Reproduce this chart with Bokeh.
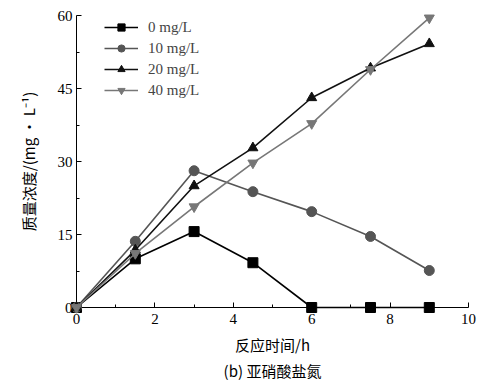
from bokeh.plotting import figure
from bokeh.models import Range1d, Legend, LegendItem, Title, FixedTicker
from bokeh.embed import file_html
from bokeh.resources import INLINE

x_hours = [0, 1.5, 3, 4.5, 6, 7.5, 9]
c0 = [0, 10.0, 15.6, 9.2, 0, 0, 0]
c10 = [0, 13.6, 28.1, 23.8, 19.7, 14.6, 7.6]
c20 = [0, 11.8, 25.0, 32.8, 43.1, 49.2, 54.2]
c40 = [0, 11.1, 20.7, 29.7, 37.8, 48.9, 59.5]
series_names = ["0 mg/L", "10 mg/L", "20 mg/L", "40 mg/L"]
x_ticks = [0, 2, 4, 6, 8, 10]
y_ticks = [0, 15, 30, 45, 60]

SERIF = "Liberation Serif"
CJK = "Noto Sans CJK SC"

p = figure(width=478, height=380, output_backend="svg", toolbar_location=None,
           x_range=Range1d(0, 10), y_range=Range1d(0, 60),
           min_border_left=76, min_border_right=10, min_border_top=15, min_border_bottom=5)
p.outline_line_color = None
p.grid.grid_line_color = None
p.background_fill_color = "white"

for ax in (p.xaxis[0], p.yaxis[0]):
    ax.axis_line_color = "black"
    ax.axis_line_width = 1
    ax.major_tick_in = 5
    ax.major_tick_out = 0
    ax.minor_tick_in = 3
    ax.minor_tick_out = 0
    ax.major_label_text_font = SERIF
    ax.major_label_text_font_size = "15px"
    ax.major_label_text_color = "black"
    ax.axis_label_text_font = CJK
    ax.axis_label_text_font_style = "normal"
    ax.axis_label_text_font_size = "15px"
    ax.axis_label_text_color = "black"

p.xaxis.ticker = FixedTicker(ticks=x_ticks, minor_ticks=[1, 3, 5, 7, 9])
p.yaxis.ticker = FixedTicker(ticks=y_ticks, minor_ticks=[7.5, 22.5, 37.5, 52.5])
p.xaxis.major_label_standoff = 6
p.yaxis.major_label_standoff = 4
p.xaxis.axis_label = "反应时间/h"
p.yaxis.axis_label = "质量浓度/(mg · L⁻¹)"
p.xaxis.axis_label_standoff = 7
p.yaxis.axis_label_standoff = 16

colors = ["#000000", "#555555", "#111111", "#777777"]
markers = ["square", "circle", "triangle", "inverted_triangle"]
data = [c0, c10, c20, c40]
items = []
for name, ys, col, mk in zip(series_names, data, colors, markers):
    l = p.line(x_hours, ys, line_color=col, line_width=1.6)
    s = p.scatter(x_hours, ys, marker=mk, size=10, fill_color=col, line_color=col)
    l.level = "overlay"
    s.level = "overlay"
    items.append(LegendItem(label=name, renderers=[l, s]))

legend = Legend(items=items, location=(28, 208), border_line_color=None,
                background_fill_alpha=0, label_text_font=SERIF, label_text_font_size="15px",
                glyph_width=34, glyph_height=18, label_height=18, spacing=3, padding=0, margin=0,
                label_standoff=10)
p.add_layout(legend)

cap = Title(text="(b) 亚硝酸盐氮", align="center", text_font=CJK, text_font_size="15px",
            text_font_style="normal", text_color="black", standoff=0, offset=0)
p.add_layout(cap, "below")

open("out.html", "w").write(file_html(p, INLINE))
